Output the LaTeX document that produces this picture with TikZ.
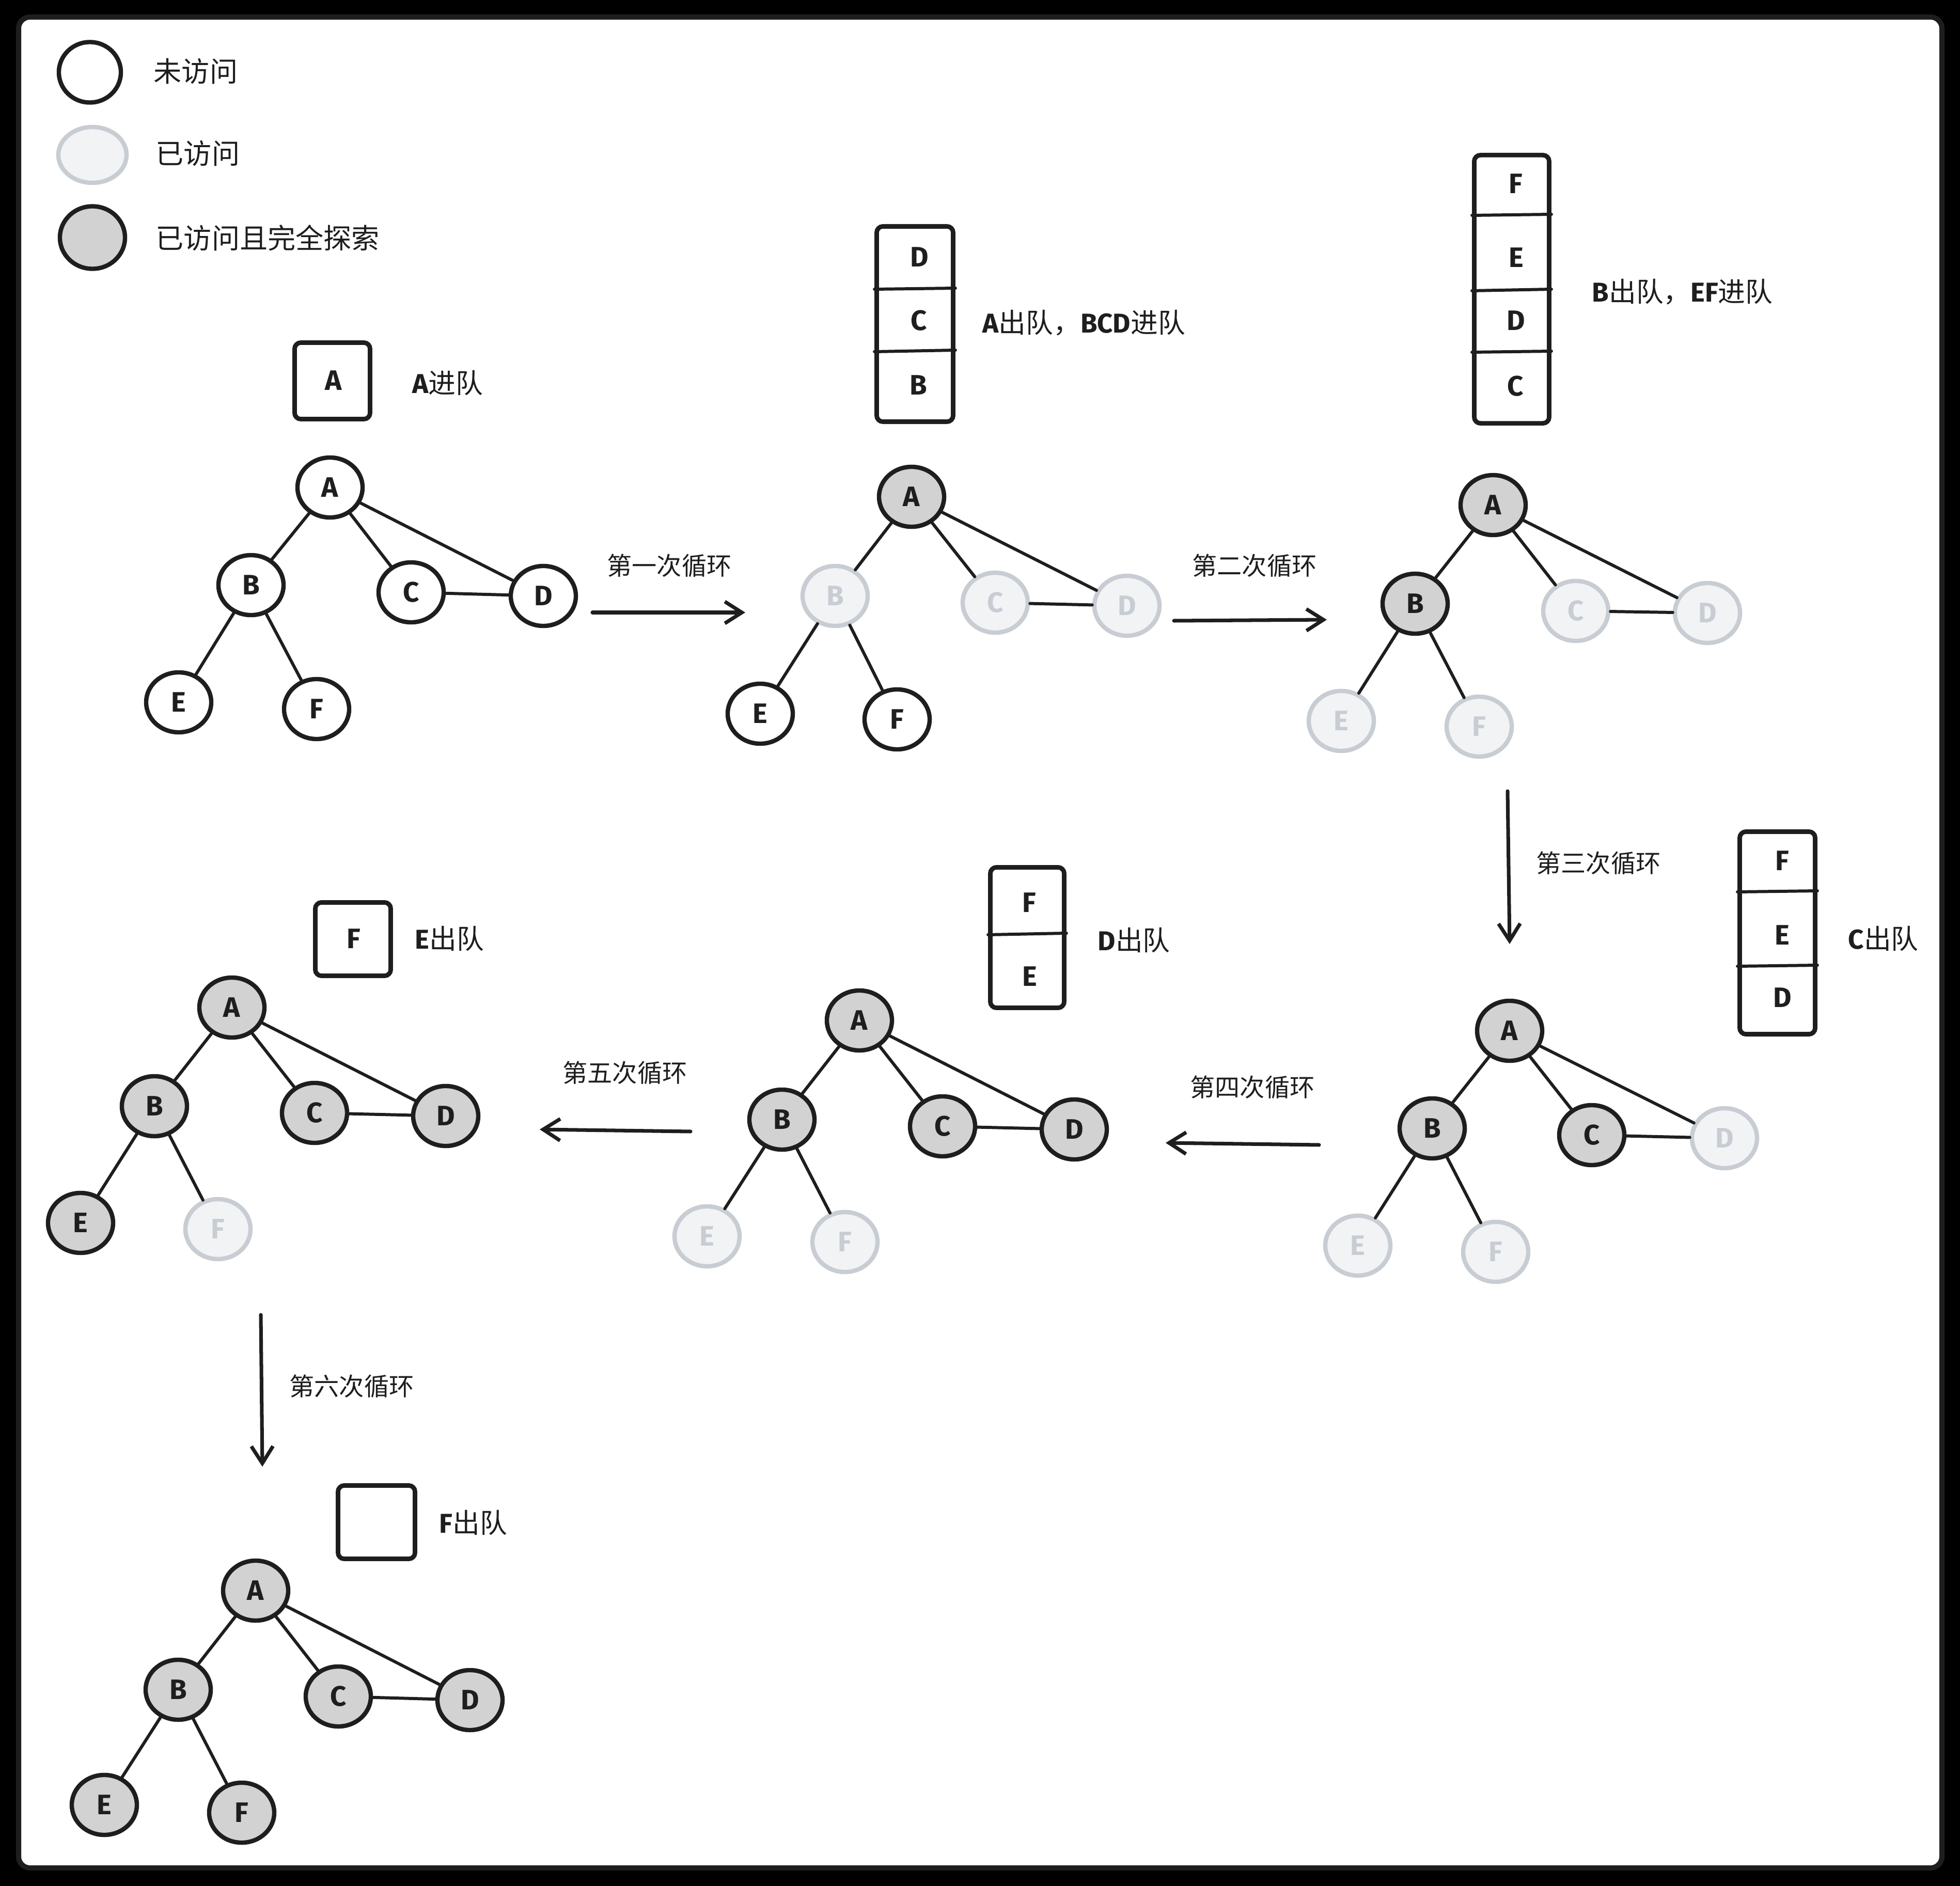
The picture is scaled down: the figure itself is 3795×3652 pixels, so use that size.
\documentclass[tikz,border=0pt]{standalone}
\usepackage{fontspec}
\setmainfont{Noto Sans CJK SC}
\newfontfamily\lettfont{Fira Sans}
\usetikzlibrary{arrows.meta,shapes.geometric}

\definecolor{ink}{HTML}{1E1E1E}
\definecolor{seenfill}{HTML}{F1F3F5}
\definecolor{seenline}{HTML}{C8CDD3}
\definecolor{donefill}{HTML}{D2D2D2}

\newcommand{\lt}[1]{{\lettfont\bfseries #1}}

\tikzset{
  vtx/.style={ellipse, draw=ink, line width=2.4pt, minimum width=1.26cm,
    minimum height=1.16cm, inner sep=0pt, text=ink,
    font=\lettfont\bfseries\fontsize{15.5}{18}\selectfont},
  fresh/.style={vtx, fill=white},
  seen/.style={vtx, fill=seenfill, draw=seenline, text=seenline},
  done/.style={vtx, fill=donefill},
  edge/.style={draw=ink, line width=1.7pt, line cap=round},
  queue/.style={draw=ink, line width=2.5pt, rounded corners=0.12cm,
    fill=white, inner sep=0pt},
  slot/.style={draw=ink, line width=1.7pt, line cap=round},
  cell/.style={inner sep=0pt, text=ink,
    font=\lettfont\bfseries\fontsize{15.5}{18}\selectfont},
  loopnote/.style={inner sep=0pt, text=ink, font=\fontsize{13.7}{16}\selectfont},
  qnote/.style={inner sep=0pt, text=ink, anchor=west, font=\fontsize{15}{18}\selectfont},
  keynote/.style={inner sep=0pt, text=ink, anchor=west, font=\fontsize{15.4}{18}\selectfont},
  flow/.style={draw=ink, line width=2pt, line cap=round,
    -{Straight Barb[length=0.33cm, width=0.42cm]}}
}

\begin{document}
\begin{tikzpicture}[x=0.01cm, y=-0.01cm]
\useasboundingbox (0,0) rectangle (3795,3652);
\fill[black] (0,0) rectangle (3795,3652);
\draw[ink, line width=2.85pt, fill=white, rounded corners=0.22cm] (36,33) rectangle (3760,3617);

% ---------- legend ----------
\node[fresh, minimum width=1.2cm, minimum height=1.17cm] (k1) at (174,140) {};
\node[seen, minimum width=1.32cm, minimum height=1.08cm] (k2) at (179,300) {};
\node[done, minimum width=1.26cm, minimum height=1.21cm] (k3) at (179,460) {};
\node[keynote] (k1t) at (297,138) {未访问};
\node[keynote] (k2t) at (301,297) {已访问};
\node[keynote] (k3t) at (301,461) {已访问且完全探索};

% ---------- tree 1: start ----------
\node[fresh] (t1A) at (639,944) {A};
\node[fresh] (t1B) at (486,1133) {B};
\node[fresh] (t1C) at (796,1147) {C};
\node[fresh] (t1D) at (1052,1154) {D};
\node[fresh] (t1E) at (346,1360) {E};
\node[fresh] (t1F) at (613,1373) {F};
\node[queue, minimum width=1.46cm, minimum height=1.48cm] (q1) at (643.5,737.5) {};
\node[cell] (q1a) at (646,737) {A};
\node[qnote] (n1) at (798,742) {\lt{A}进队};

% ---------- tree 2 ----------
\node[done] (t2A) at (1765,962) {A};
\node[seen] (t2B) at (1617,1154) {B};
\node[seen] (t2C) at (1927,1167) {C};
\node[seen] (t2D) at (2182,1173) {D};
\node[fresh] (t2E) at (1472,1382) {E};
\node[fresh] (t2F) at (1737,1393) {F};
\node[queue, minimum width=1.48cm, minimum height=3.78cm] (q2) at (1771.5,627.5) {};
\draw[slot] (q2.west |- 0,560) -- (q2.east |- 0,558);
\draw[slot] (q2.west |- 0,681) -- (q2.east |- 0,678);
\node[cell] (q2d) at (1780,498) {D};
\node[cell] (q2c) at (1779,621) {C};
\node[cell] (q2b) at (1778,746) {B};
\node[qnote] (n2) at (1902,625) {\lt{A}出队，\lt{BCD}进队};

% ---------- tree 3 ----------
\node[done] (t3A) at (2891,978) {A};
\node[done] (t3B) at (2740,1169) {B};
\node[seen] (t3C) at (3051,1183) {C};
\node[seen] (t3D) at (3306,1187) {D};
\node[seen] (t3E) at (2597,1396) {E};
\node[seen] (t3F) at (2864,1407) {F};
\node[queue, minimum width=1.45cm, minimum height=5.19cm] (q3) at (2927,560) {};
\draw[slot] (q3.west |- 0,417) -- (q3.east |- 0,415);
\draw[slot] (q3.west |- 0,563) -- (q3.east |- 0,560);
\draw[slot] (q3.west |- 0,682) -- (q3.east |- 0,680);
\node[cell] (q3f) at (2935,356) {F};
\node[cell] (q3e) at (2936,499) {E};
\node[cell] (q3d) at (2935,621) {D};
\node[cell] (q3c) at (2934,748) {C};
\node[qnote] (n3) at (3082,565) {\lt{B}出队，\lt{EF}进队};

% ---------- tree 4 ----------
\node[done] (t4A) at (2923,1996) {A};
\node[done] (t4B) at (2773,2185) {B};
\node[done] (t4C) at (3082,2198) {C};
\node[seen] (t4D) at (3339,2204) {D};
\node[seen] (t4E) at (2629,2412) {E};
\node[seen] (t4F) at (2896,2424) {F};
\node[queue, minimum width=1.46cm, minimum height=3.92cm] (q4) at (3441.5,1806.5) {};
\draw[slot] (q4.west |- 0,1727) -- (q4.east |- 0,1725);
\draw[slot] (q4.west |- 0,1871) -- (q4.east |- 0,1869);
\node[cell] (q4f) at (3451,1667) {F};
\node[cell] (q4e) at (3451,1811) {E};
\node[cell] (q4d) at (3451,1932) {D};
\node[qnote] (n4) at (3578,1818) {\lt{C}出队};

% ---------- tree 5 ----------
\node[done] (t5A) at (1664,1976) {A};
\node[done] (t5B) at (1514,2168) {B};
\node[done] (t5C) at (1825,2181) {C};
\node[done] (t5D) at (2080,2187) {D};
\node[seen] (t5E) at (1369,2394) {E};
\node[seen] (t5F) at (1636,2405) {F};
\node[queue, minimum width=1.43cm, minimum height=2.72cm] (q5) at (1989,1815.5) {};
\draw[slot] (q5.west |- 0,1810) -- (q5.east |- 0,1807);
\node[cell] (q5f) at (1993,1748) {F};
\node[cell] (q5e) at (1994,1891) {E};
\node[qnote] (n5) at (2125,1821) {\lt{D}出队};

% ---------- tree 6 ----------
\node[done] (t6A) at (449,1951) {A};
\node[done] (t6B) at (299,2142) {B};
\node[done] (t6C) at (609,2155) {C};
\node[done] (t6D) at (863,2161) {D};
\node[done] (t6E) at (156,2368) {E};
\node[seen] (t6F) at (422,2380) {F};
\node[queue, minimum width=1.46cm, minimum height=1.42cm] (q6) at (683.5,1818.5) {};
\node[cell] (q6f) at (685,1818) {F};
\node[qnote] (n6) at (803,1818) {\lt{E}出队};

% ---------- tree 7 ----------
\node[done] (t7A) at (495,3080) {A};
\node[done] (t7B) at (345,3272) {B};
\node[done] (t7C) at (655,3285) {C};
\node[done] (t7D) at (910,3292) {D};
\node[done] (t7E) at (202,3495) {E};
\node[done] (t7F) at (468,3510) {F};
\node[queue, minimum width=1.49cm, minimum height=1.42cm] (q7) at (729,2947.5) {};
\node[qnote] (n7) at (850,2949) {\lt{F}出队};

% ---------- graph edges ----------
\foreach \t in {1,...,7}{
  \foreach \u/\v in {A/B,A/C,A/D,B/E,B/F,C/D}
    \draw[edge] (t\t\u) -- (t\t\v);
}

% ---------- loop arrows ----------
\coordinate (a1s) at (1147,1186); \coordinate (a1e) at (1443,1186);
\coordinate (a2s) at (2273,1202); \coordinate (a2e) at (2569,1200);
\coordinate (a3s) at (2919,1532); \coordinate (a3e) at (2923,1828);
\coordinate (a4s) at (2554,2217); \coordinate (a4e) at (2257,2213);
\coordinate (a5s) at (1337,2191); \coordinate (a5e) at (1045,2187);
\coordinate (a6s) at (505,2546);  \coordinate (a6e) at (508,2840);
\foreach \i in {1,...,6} \draw[flow] (a\i s) -- (a\i e);

\node[loopnote] (l1) at (1296,1095) {第一次循环};
\node[loopnote] (l2) at (2429,1095) {第二次循环};
\node[loopnote] (l3) at (3095,1671) {第三次循环};
\node[loopnote] (l4) at (2425,2105) {第四次循环};
\node[loopnote] (l5) at (1210,2077) {第五次循环};
\node[loopnote] (l6) at (681,2684) {第六次循环};
\end{tikzpicture}
\end{document}
